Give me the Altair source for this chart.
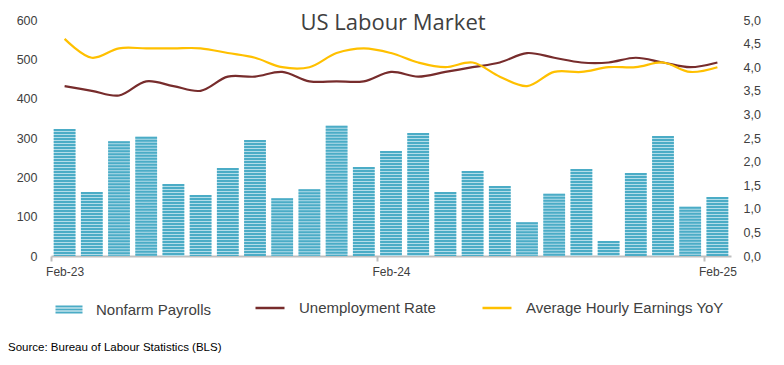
import altair as alt
import pandas as pd

months = ["Feb-23", "Mar-23", "Apr-23", "May-23", "Jun-23", "Jul-23", "Aug-23",
          "Sep-23", "Oct-23", "Nov-23", "Dec-23", "Jan-24", "Feb-24", "Mar-24",
          "Apr-24", "May-24", "Jun-24", "Jul-24", "Aug-24", "Sep-24", "Oct-24",
          "Nov-24", "Dec-24", "Jan-25", "Feb-25"]
payrolls = [323, 163, 292, 303, 183, 155, 224, 295, 147, 170, 331, 226, 267,
            313, 163, 216, 178, 86, 158, 221, 38, 211, 305, 125, 150]
unemployment = [3.6, 3.5, 3.4, 3.7, 3.6, 3.5, 3.8, 3.8, 3.9, 3.7, 3.7, 3.7, 3.9,
                3.8, 3.9, 4.0, 4.1, 4.3, 4.2, 4.1, 4.1, 4.2, 4.1, 4.0, 4.1]
earnings = [4.6, 4.2, 4.4, 4.4, 4.4, 4.4, 4.3, 4.2, 4.0, 4.0, 4.3, 4.4, 4.3,
            4.1, 4.0, 4.1, 3.8, 3.6, 3.9, 3.9, 4.0, 4.0, 4.1, 3.9, 4.0]
label_months = ["Feb-23", "Feb-24", "Feb-25"]
left_ticks = [0, 100, 200, 300, 400, 500, 600]
right_ticks = [0, 0.5, 1, 1.5, 2, 2.5, 3, 3.5, 4, 4.5, 5]

TITLE = "US Labour Market"
SOURCE = "Source: Bureau of Labour Statistics (BLS)"
S_NFP = "Nonfarm Payrolls"
S_UR = "Unemployment Rate"
S_AHE = "Average Hourly Earnings YoY"

FONT = "Liberation Sans"
TXT = "#404040"

df = pd.DataFrame({
    "month": months,
    "payrolls": payrolls,
    "unemployment": unemployment,
    "earnings": earnings,
    "s_nfp": S_NFP,
    "s_ur": S_UR,
    "s_ahe": S_AHE,
})

x_scale = alt.Scale(domain=months, paddingInner=0.2, paddingOuter=0.1)
x_axis = alt.Axis(
    title=None, values=label_months, labelAngle=0, domainColor="#BFBFBF",
    domainWidth=2, tickColor="#BFBFBF", tickWidth=2, tickSize=5,
    tickOffset=-13.6, labelOffset=13.6, labelPadding=5, labelFont=FONT,
    labelFontSize=12, labelColor=TXT, grid=False,
)
x_enc = alt.X("month:N", scale=x_scale, axis=x_axis, sort=months)

left_scale = alt.Scale(domain=[0, 600], nice=False)
left_axis = alt.Axis(
    title=None, orient="left", values=left_ticks, domain=False, ticks=False,
    grid=False, labelPadding=14, labelFont=FONT, labelFontSize=12.5, labelColor=TXT,
)
right_scale = alt.Scale(domain=[0, 5], nice=False)
right_axis = alt.Axis(
    title=None, orient="right", values=right_ticks, domain=False, ticks=False,
    grid=False, labelPadding=12, labelFont=FONT, labelFontSize=12.5, labelColor=TXT,
    labelExpr="replace(format(datum.value, '.1f'), '.', ',')",
)

base = alt.Chart(df)

bar_under = base.mark_bar(color="#B3DDE9").encode(
    x=x_enc,
    y=alt.Y("payrolls:Q", scale=left_scale, axis=left_axis),
)
bar_stripes = base.mark_rule(strokeDash=[2, 1], strokeWidth=21.76).encode(
    x=x_enc,
    y=alt.Y("payrolls:Q", scale=left_scale, axis=left_axis),
    y2=alt.datum(0),
    stroke=alt.Stroke(
        "s_nfp:N",
        scale=alt.Scale(domain=[S_NFP], range=["#4BACC6"]),
        legend=alt.Legend(
            title=None, orient="none", legendX=0, legendY=272, padding=0,
            symbolType="M0,-1V1", symbolSize=81, symbolStrokeWidth=27,
            symbolDash=[2, 1], labelOffset=9, labelFont=FONT,
            labelFontSize=15, labelColor=TXT, labelLimit=300,
        ),
    ),
)

title_layer = alt.Chart(pd.DataFrame({"t": [TITLE]})).mark_text(
    font="Open Sans", fontSize=22, color=TXT, align="center", baseline="middle",
).encode(text="t:N", x=alt.value(342), y=alt.value(3))

source_layer = alt.Chart(pd.DataFrame({"t": [SOURCE]})).mark_text(
    font=FONT, fontSize=11.5, color="#000000", align="left", baseline="middle",
).encode(text="t:N", x=alt.value(-43), y=alt.value(328))

left = alt.layer(bar_under, bar_stripes, title_layer, source_layer)

line_ur = base.mark_line(strokeWidth=2.2, interpolate="catmull-rom").encode(
    x=x_enc,
    y=alt.Y("unemployment:Q", scale=right_scale, axis=right_axis),
    stroke=alt.Stroke(
        "s_ur:N",
        scale=alt.Scale(domain=[S_UR], range=["#772C2C"]),
        legend=alt.Legend(
            title=None, orient="none", legendX=203, legendY=272, padding=0,
            symbolType="stroke", symbolSize=841, symbolStrokeWidth=2.5,
            labelOffset=13, labelFont=FONT, labelFontSize=15, labelColor=TXT,
            labelLimit=300,
        ),
    ),
)
line_ahe = base.mark_line(strokeWidth=2.2, interpolate="catmull-rom").encode(
    x=x_enc,
    y=alt.Y("earnings:Q", scale=right_scale, axis=right_axis),
    stroke=alt.Stroke(
        "s_ahe:N",
        scale=alt.Scale(domain=[S_AHE], range=["#FFC000"]),
        legend=alt.Legend(
            title=None, orient="none", legendX=430, legendY=272, padding=0,
            symbolType="stroke", symbolSize=841, symbolStrokeWidth=2.5,
            labelOffset=13, labelFont=FONT, labelFontSize=15, labelColor=TXT,
            labelLimit=300,
        ),
    ),
)

right = alt.layer(line_ur, line_ahe).resolve_scale(stroke="independent")

chart = (
    alt.layer(left, right)
    .resolve_scale(y="independent", stroke="independent")
    .properties(
        width=680, height=236,
        autosize=alt.AutoSizeParams(type="none"),
        padding={"left": 43, "top": 12, "right": 45, "bottom": 101},
    )
    .configure_view(stroke=None)
)

chart.save("out.html", embed_options={"renderer": "svg", "actions": False})
